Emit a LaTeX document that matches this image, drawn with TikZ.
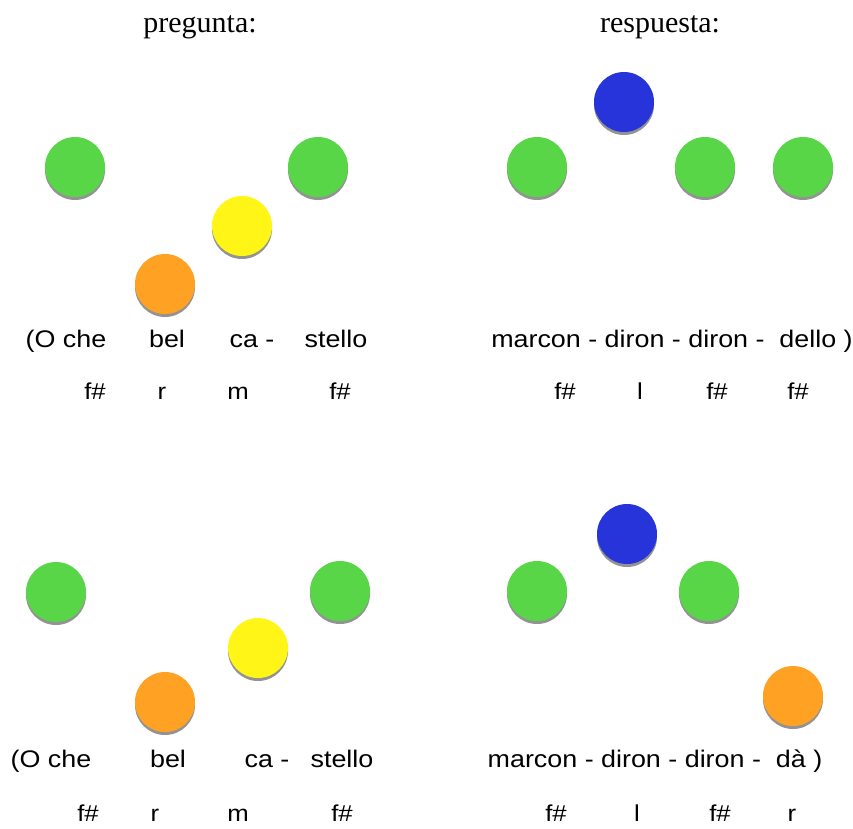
\documentclass[tikz,border=0pt]{standalone}
\usepackage{fontspec}
\setmainfont{Liberation Serif}
\setsansfont[FakeStretch=1.12]{Liberation Sans}

\definecolor{verde}{RGB}{88,214,72}
\definecolor{amarillo}{RGB}{255,246,24}
\definecolor{naranja}{RGB}{255,162,36}
\definecolor{azul}{RGB}{38,52,218}

% a coloured ball with its grey shadow
\newcommand{\bola}[4]{%
  \fill[gray!85] (#2, #3+3) circle (30);
  \node[ball, fill=#4] (#1) at (#2, #3) {};
}

\begin{document}
\begin{tikzpicture}[x=1pt, y=-1pt]
  \tikzstyle{ball}=[circle, minimum size=60pt, inner sep=0pt]
  \tikzstyle{head}=[anchor=base, font=\fontsize{30}{34}\selectfont]
  \tikzstyle{silaba}=[anchor=base, font=\sffamily\fontsize{24}{28}\selectfont]
  \tikzstyle{solfa}=[anchor=base, font=\sffamily\fontsize{23}{27}\selectfont]

  \useasboundingbox (0,0) rectangle (853,828);

  \node[head] (preg) at (200, 32) {pregunta:};
  \node[head] (resp) at (660, 32) {respuesta:};

  % upper question
  \bola{a1}{75}{167}{verde}
  \bola{a2}{165}{284}{naranja}
  \bola{a3}{242}{226}{amarillo}
  \bola{a4}{318}{167}{verde}

  \node[silaba] (la1) at (66,  347) {(O che};
  \node[silaba] (la2) at (167, 347) {bel};
  \node[silaba] (la3) at (252, 347) {ca -};
  \node[silaba] (la4) at (336, 347) {stello};

  \node[solfa] (na1) at (95,  399) {f\#};
  \node[solfa] (na2) at (162, 399) {r};
  \node[solfa] (na3) at (238, 399) {m};
  \node[solfa] (na4) at (340, 399) {f\#};

  % upper answer
  \bola{b1}{537}{167}{verde}
  \bola{b2}{624}{102}{azul}
  \bola{b3}{705}{167}{verde}
  \bola{b4}{803}{167}{verde}

  \node[silaba] (lb) at (672, 347) {marcon - diron - diron - \ dello )};

  \node[solfa] (nb1) at (565, 399) {f\#};
  \node[solfa] (nb2) at (640, 399) {l};
  \node[solfa] (nb3) at (717, 399) {f\#};
  \node[solfa] (nb4) at (798, 399) {f\#};

  % lower question
  \bola{c1}{56}{592}{verde}
  \bola{c2}{165}{702}{naranja}
  \bola{c3}{258}{648}{amarillo}
  \bola{c4}{340}{591}{verde}

  \node[silaba] (lc1) at (51,  767) {(O che};
  \node[silaba] (lc2) at (168, 767) {bel};
  \node[silaba] (lc3) at (267, 767) {ca -};
  \node[silaba] (lc4) at (342, 767) {stello};

  \node[solfa] (nc1) at (88,  821) {f\#};
  \node[solfa] (nc2) at (155, 821) {r};
  \node[solfa] (nc3) at (238, 821) {m};
  \node[solfa] (nc4) at (342, 821) {f\#};

  % lower answer
  \bola{d1}{537}{591}{verde}
  \bola{d2}{627}{534}{azul}
  \bola{d3}{709}{591}{verde}
  \bola{d4}{793}{696}{naranja}

  \node[silaba] (ld) at (655, 767) {marcon - diron - diron - \ d\`a )};

  \node[solfa] (nd1) at (556, 821) {f\#};
  \node[solfa] (nd2) at (637, 821) {l};
  \node[solfa] (nd3) at (720, 821) {f\#};
  \node[solfa] (nd4) at (792, 821) {r};
\end{tikzpicture}
\end{document}
